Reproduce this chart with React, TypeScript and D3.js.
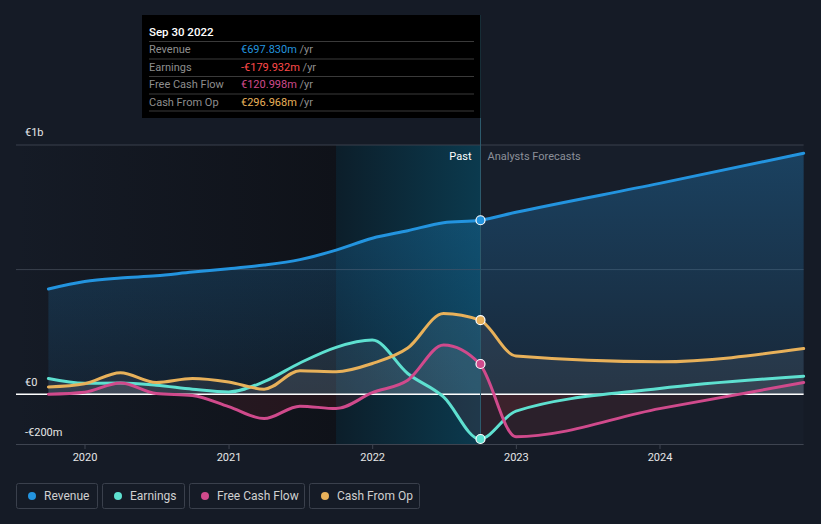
import React from "react";
import * as d3 from "d3";

const periods = [
  "2019-09-30", "2019-12-31", "2020-03-31", "2020-06-30", "2020-09-30",
  "2020-12-31", "2021-03-31", "2021-06-30", "2021-09-30", "2021-12-31",
  "2022-03-31", "2022-06-30", "2022-09-30",
  "2022-12-31", "2023-12-31", "2024-12-31",
];
const revenue = [422, 452, 466, 475, 490, 503, 518, 540, 578, 626, 656, 688, 698, 730, 846, 967];
const earnings = [63, 44, 45, 36, 20, 9, 50, 125, 188, 217, 83, -11, -180, -68, 23, 72];
const freeCashFlow = [0, 8, 45, 3, -5, -50, -98, -48, -58, 6, 56, 197, 121, -171, -58, 47];
const cashFromOp = [29, 42, 86, 47, 63, 49, 20, 94, 90, 123, 185, 324, 297, 153, 130, 183];

const yTicks = [-200, 0, 1000];
const yTickLabels = ["-€200m", "€0", "€1b"];
const xTicks = ["2020", "2021", "2022", "2023", "2024"];

const seriesNames = ["Revenue", "Earnings", "Free Cash Flow", "Cash From Op"];
const seriesColors = ["#2394df", "#5ee0d0", "#d04a8c", "#e8b15a"];
const tooltipValues = ["€697.830m", "-€179.932m", "€120.998m", "€296.968m"];
const tooltipValueColors = ["#2394df", "#ff4a4a", "#d04a8c", "#e8b15a"];

const W = 821;
const H = 524;
const FONT = "'Liberation Sans Narrow', Roboto, sans-serif";
const FONT2 = "Roboto, 'Noto Sans', sans-serif";

export default function App() {
  const parse = d3.timeParse("%Y-%m-%d");
  const dates = periods.map((p) => parse(p) as Date);
  const x = d3
    .scaleTime()
    .domain([new Date(2020, 0, 1), new Date(2024, 0, 1)])
    .range([85, 660]);
  const y = d3.scaleLinear().domain([-200, 1000]).range([444, 145]);

  const pastIdx = 12;
  const xPast = Math.round(x(dates[pastIdx])) + 0.5;
  const xStart = x(dates[0]);
  const xEnd = x(dates[dates.length - 1]);
  const xHl = x(new Date(2021, 8, 30));

  const all = [revenue, earnings, freeCashFlow, cashFromOp];
  const pts = (vals: number[]) => vals.map((v, i) => [x(dates[i]), y(v)] as [number, number]);
  const line = d3.line<[number, number]>().x((d) => d[0]).y((d) => d[1]).curve(d3.curveMonotoneX);
  const area = d3
    .area<[number, number]>()
    .x((d) => d[0])
    .y0(y(0))
    .y1((d) => d[1])
    .curve(d3.curveMonotoneX);

  const y0 = y(0);

  return (
    <svg
      width={W}
      height={H}
      style={{ position: "absolute", left: 0, top: 0, background: "#151b26" }}
    >
      <defs>
        <linearGradient id="hl" x1="0" x2="1" y1="0" y2="0">
          <stop offset="0" stopColor="#0c1e2a" stopOpacity="1" />
          <stop offset="1" stopColor="#0b3a4e" stopOpacity="1" />
        </linearGradient>
        <linearGradient id="pastDark" x1="0" x2="1" y1="0" y2="0">
          <stop offset="0" stopColor="#0f1219" stopOpacity="0" />
          <stop offset="1" stopColor="#0f1219" stopOpacity="1" />
        </linearGradient>
        <linearGradient id="revFill" x1="0" x2="0" y1="0" y2="1">
          <stop offset="0" stopColor="#2394df" stopOpacity="0.3" />
          <stop offset="1" stopColor="#2394df" stopOpacity="0.08" />
        </linearGradient>
        <clipPath id="above">
          <rect x={0} y={0} width={W} height={y0} />
        </clipPath>
        <clipPath id="below">
          <rect x={0} y={y0} width={W} height={H - y0} />
        </clipPath>
      </defs>
      <rect x={0} y={0} width={W} height={H} fill="#151b26" />
      {/* past dark region */}
      <rect x={16} y={145} width={xHl - 16} height={444 - 145} fill="url(#pastDark)" />
      {/* forecast region */}
      <rect x={xPast} y={145} width={xEnd - xPast} height={444 - 145} fill="#171e2a" />
      {/* highlight */}
      <rect x={xHl} y={145} width={xPast - xHl} height={444 - 145} fill="url(#hl)" />

      {/* gridlines */}
      {[1000, 500].map((v) => (
        <line key={v} x1={16} x2={xEnd} y1={y(v)} y2={y(v)} stroke="#3a404c" strokeWidth={1} />
      ))}

      {/* revenue area */}
      <path d={area(pts(revenue)) || ""} fill="url(#revFill)" />
      {/* other areas */}
      {[earnings, freeCashFlow, cashFromOp].map((vals, k) => (
        <g key={k}>
          <path d={area(pts(vals)) || ""} fill="#c8c8d0" fillOpacity={0.09} clipPath="url(#above)" />
          <path d={area(pts(vals)) || ""} fill="#c0303c" fillOpacity={0.12} clipPath="url(#below)" />
        </g>
      ))}

      {/* zero line */}
      <line x1={16} x2={xEnd} y1={y0} y2={y0} stroke="#ffffff" strokeWidth={1.5} />
      {/* bottom axis */}
      <line x1={16} x2={xEnd} y1={444.5} y2={444.5} stroke="#3e4450" strokeWidth={1} />
      {xTicks.map((t) => {
        const xx = x(new Date(+t, 0, 1));
        return (
          <g key={t}>
            <line x1={xx} x2={xx} y1={444} y2={449} stroke="#3e4450" />
            <text x={xx} y={461} fill="#e6e6e6" fontSize={11} fontFamily={FONT} textAnchor="middle">
              {t}
            </text>
          </g>
        );
      })}

      {/* lines */}
      {all.map((vals, k) => (
        <path
          key={k}
          d={line(pts(vals)) || ""}
          fill="none"
          stroke={seriesColors[k]}
          strokeWidth={3}
          strokeLinejoin="round"
          strokeLinecap="round"
        />
      ))}

      {/* vertical past line */}
      <line x1={xPast} x2={xPast} y1={15} y2={444} stroke="#2c5a6c" strokeWidth={1} />

      {/* markers */}
      {all.map((vals, k) => (
        <circle
          key={k}
          cx={xPast}
          cy={y(vals[pastIdx])}
          r={4.5}
          fill={seriesColors[k]}
          stroke="#ffffff"
          strokeWidth={1.2}
        />
      ))}

      {/* y labels */}
      {yTicks.map((v, i) => (
        <text
          key={v}
          x={25}
          y={v === 1000 ? y(v) - 9 : y(v) - 8}
          fill="#e6e6e6"
          fontSize={11}
          fontFamily={FONT}
        >
          {yTickLabels[i]}
        </text>
      ))}

      <text x={xPast - 9} y={160} fill="#ffffff" fontSize={11} fontFamily={FONT} textAnchor="end">
        Past
      </text>
      <text x={xPast + 7} y={160} fill="#8c9099" fontSize={11} fontFamily={FONT}>
        Analysts Forecasts
      </text>

      {/* tooltip */}
      <rect x={142} y={15} width={xPast - 142} height={103} fill="#000000" />
      <text x={149} y={36} fill="#ffffff" fontSize={11.5} fontWeight={500} fontFamily={FONT2}>
        Sep 30 2022
      </text>
      {seriesNames.map((n, i) => {
        const by = 53 + i * 17.5;
        return (
          <g key={n}>
            <line x1={149} x2={474} y1={by - 11.5} y2={by - 11.5} stroke="#3a3a3a" />
            <text x={149} y={by} fill="#8e8e8e" fontSize={11} fontFamily={FONT2}>
              {n}
            </text>
            <text x={241} y={by} fontSize={11} fontFamily={FONT2}>
              <tspan fill={tooltipValueColors[i]}>{tooltipValues[i]}</tspan>
              <tspan fill="#8e8e8e"> /yr</tspan>
            </text>
          </g>
        );
      })}
      <line x1={149} x2={474} y1={111} y2={111} stroke="#3a3a3a" />

      {/* legend */}
      {(() => {
        const boxes = [
          [16, 81],
          [102, 82],
          [189, 115],
          [309, 110],
        ];
        return seriesNames.map((n, i) => (
          <g key={n}>
            <rect
              x={boxes[i][0] + 0.5}
              y={483.5}
              width={boxes[i][1]}
              height={25}
              rx={2}
              fill="none"
              stroke="#3a404c"
            />
            <circle cx={boxes[i][0] + 16} cy={496} r={4} fill={seriesColors[i]} />
            <text x={boxes[i][0] + 28} y={500} fill="#d0d0d0" fontSize={12} fontFamily={FONT2}>
              {n}
            </text>
          </g>
        ));
      })()}
    </svg>
  );
}
